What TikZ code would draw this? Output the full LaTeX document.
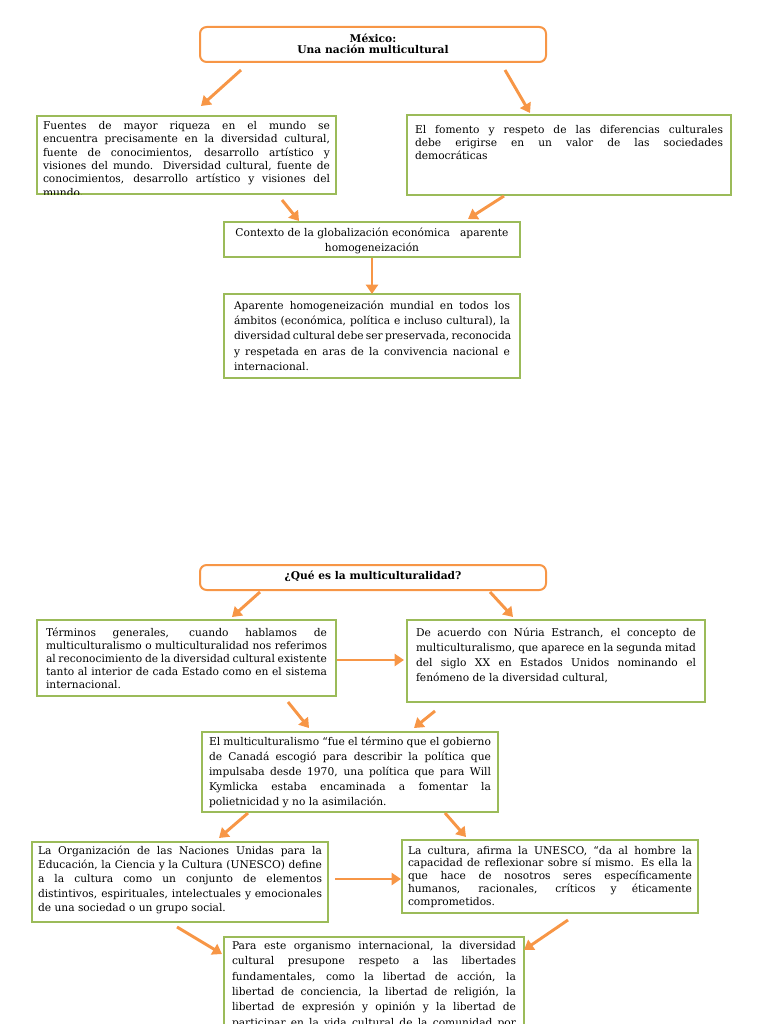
\documentclass[tikz,border=0pt]{standalone}
\usepackage{fontspec}
\setmainfont{DejaVu Serif}
\usetikzlibrary{arrows.meta}
\definecolor{arrorange}{HTML}{F79646}
\definecolor{boxgreen}{HTML}{9BBB59}
\newdimen\px \px=0.75pt
\newcommand\jl[1]{\hbox to\hsize{#1}}
\newcommand\cl[1]{\hbox to\hsize{\hfil#1\hfil}}
\newcommand\lastl[1]{\hbox to\hsize{#1\hfil}}
\newcommand\bx[6]{\hbox{\kern#3\px\parbox[b][#2\px][t]{\dimexpr#1\px-#3\px*2\relax}{\fontsize{8}{#5}\selectfont\vspace*{#4\px}#6}\kern#3\px}}
\tikzset{
  gbox/.style={draw=boxgreen, line width=1.5pt, fill=white, inner sep=0pt, outer sep=0pt, anchor=north west},
  tbox/.style={draw=arrorange, line width=1.5pt, rounded corners=5pt, fill=white, inner sep=0pt, outer sep=0pt, anchor=north west},
  arr/.style={draw=arrorange, line width=2.2pt, -{Triangle[length=7pt,width=9pt]}},
}
\begin{document}
\begin{tikzpicture}[x=0.75pt,y=-0.75pt]
\useasboundingbox (0,0) rectangle (768,1024);
\clip (0,0) rectangle (768,1024);
% ---------- first section ----------
\node[tbox] (t1) at (200,27) {\bx{346}{35}{4}{7}{8.4pt}{\cl{\textbf{México:}}\cl{\textbf{Una nación multicultural}}}};
\node[gbox] (a) at (37,116) {\bx{299}{78}{6}{5}{10.1pt}{%
\jl{Fuentes de mayor riqueza en el mundo se}
\jl{encuentra precisamente en la diversidad cultural,}
\jl{fuente de conocimientos, desarrollo artístico y}
\jl{visiones del mundo. Diversidad cultural, fuente de}
\jl{conocimientos, desarrollo artístico y visiones del}
\lastl{mundo.}}};
\fill[white] (30,195.2) rectangle (345,204);
\node[gbox] (b) at (407,115) {\bx{324}{80}{8}{10}{10pt}{%
\jl{El fomento y respeto de las diferencias culturales}
\jl{debe erigirse en un valor de las sociedades}
\lastl{democráticas}}};
\node[gbox] (c) at (224,222) {\bx{296}{35}{6}{6}{11.25pt}{%
\cl{Contexto de la globalización económica\ \ \ aparente}
\cl{homogeneización}}};
\node[gbox] (d) at (224,294) {\bx{296}{84}{10}{7}{11.4pt}{%
\jl{Aparente homogeneización mundial en todos los}
\jl{ámbitos (económica, política e incluso cultural), la}
\jl{diversidad cultural debe ser preservada, reconocida}
\jl{y respetada en aras de la convivencia nacional e}
\lastl{internacional.}}};
% ---------- second section ----------
\node[tbox] (t2) at (200,565) {\bx{346}{25}{4}{6}{8.4pt}{\cl{\textbf{¿Qué es la multiculturalidad?}}}};
\node[gbox] (e) at (37,620) {\bx{299}{76}{9}{8}{9.75pt}{%
\jl{Términos generales, cuando hablamos de}
\jl{multiculturalismo o multiculturalidad nos referimos}
\jl{al reconocimiento de la diversidad cultural existente}
\jl{tanto al interior de cada Estado como en el sistema}
\lastl{internacional.}}};
\node[gbox] (f) at (407,620) {\bx{298}{82}{9}{8}{11.25pt}{%
\jl{De acuerdo con Núria Estranch, el concepto de}
\jl{multiculturalismo, que aparece en la segunda mitad}
\jl{del siglo XX en Estados Unidos nominando el}
\lastl{fenómeno de la diversidad cultural,}}};
\node[gbox] (g) at (202,732) {\bx{296}{80}{7}{5}{11.25pt}{%
\jl{El multiculturalismo “fue el término que el gobierno}
\jl{de Canadá escogió para describir la política que}
\jl{impulsaba desde 1970, una política que para Will}
\jl{Kymlicka estaba encaminada a fomentar la}
\lastl{polietnicidad y no la asimilación.}}};
\node[gbox] (h) at (32,842) {\bx{296}{80}{6}{4}{10.65pt}{%
\jl{La Organización de las Naciones Unidas para la}
\jl{Educación, la Ciencia y la Cultura (UNESCO) define}
\jl{a la cultura como un conjunto de elementos}
\jl{distintivos, espirituales, intelectuales y emocionales}
\lastl{de una sociedad o un grupo social.}}};
\node[gbox] (i) at (402,840) {\bx{296}{73}{6}{6}{9.6pt}{%
\jl{La cultura, afirma la UNESCO, “da al hombre la}
\jl{capacidad de reflexionar sobre sí mismo. Es ella la}
\jl{que hace de nosotros seres específicamente}
\jl{humanos, racionales, críticos y éticamente}
\lastl{comprometidos.}}};
\node[gbox] (j) at (224,937) {\bx{300}{110}{8}{4}{11.6pt}{%
\jl{Para este organismo internacional, la diversidad}
\jl{cultural presupone respeto a las libertades}
\jl{fundamentales, como la libertad de acción, la}
\jl{libertad de conciencia, la libertad de religión, la}
\jl{libertad de expresión y opinión y la libertad de}
\jl{participar en la vida cultural de la comunidad por}}};
% ---------- arrow end points ----------
\coordinate (t1l) at (241,70);  \coordinate (al) at (201,106);
\coordinate (t1r) at (505,70);  \coordinate (br) at (530,113);
\coordinate (ac1) at (282,200); \coordinate (ac2) at (299,221);
\coordinate (bc1) at (504,196); \coordinate (bc2) at (468,219);
\coordinate (cd1) at (372,258); \coordinate (cd2) at (372,294);
\coordinate (t2l) at (260,592); \coordinate (el) at (232,617);
\coordinate (t2r) at (490,592); \coordinate (fr) at (513,617);
\coordinate (ef1) at (337,660); \coordinate (ef2) at (404,660);
\coordinate (eg1) at (288,702); \coordinate (eg2) at (309,728);
\coordinate (fg1) at (435,711); \coordinate (fg2) at (414,728);
\coordinate (gh1) at (248,813); \coordinate (gh2) at (219,838);
\coordinate (gi1) at (445,813); \coordinate (gi2) at (466,837);
\coordinate (hi1) at (335,879); \coordinate (hi2) at (401,879);
\coordinate (hj1) at (177,927); \coordinate (hj2) at (222,954);
\coordinate (ij1) at (568,920); \coordinate (ij2) at (524,950);
% ---------- arrows ----------
\draw[arr] (t1l) -- (al);
\draw[arr] (t1r) -- (br);
\draw[arr] (ac1) -- (ac2);
\draw[arr] (bc1) -- (bc2);
\draw[arr] (cd1) -- (cd2);
\draw[arr] (t2l) -- (el);
\draw[arr] (t2r) -- (fr);
\draw[arr] (ef1) -- (ef2);
\draw[arr] (eg1) -- (eg2);
\draw[arr] (fg1) -- (fg2);
\draw[arr] (gh1) -- (gh2);
\draw[arr] (gi1) -- (gi2);
\draw[arr] (hi1) -- (hi2);
\draw[arr] (hj1) -- (hj2);
\draw[arr] (ij1) -- (ij2);
\end{tikzpicture}
\end{document}
